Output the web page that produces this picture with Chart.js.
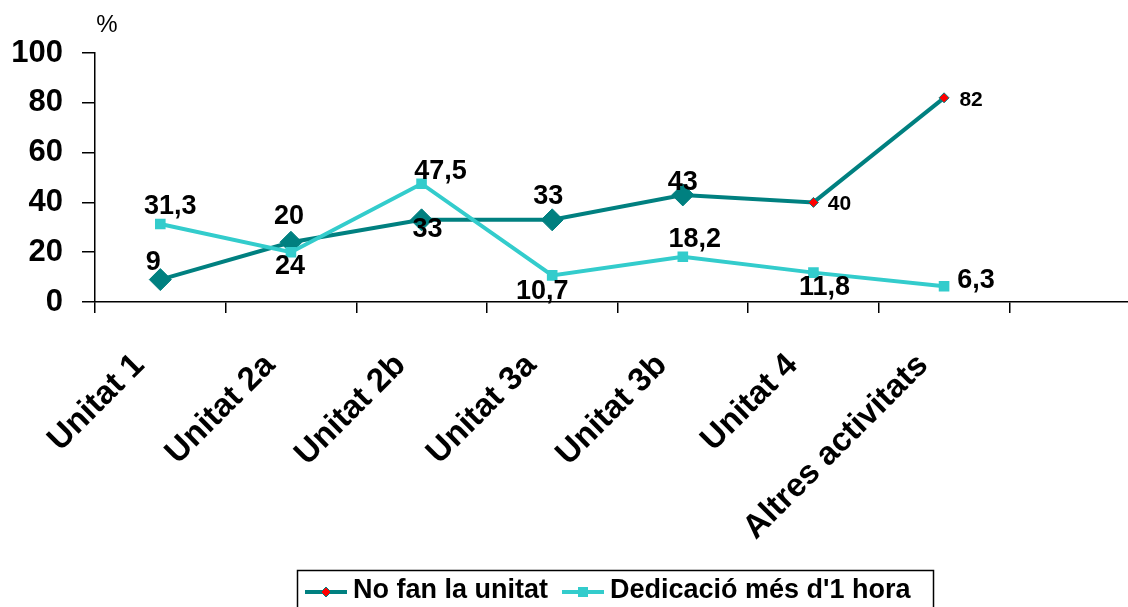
<!DOCTYPE html>
<html>
<head>
<meta charset="utf-8">
<script src="https://cdn.jsdelivr.net/npm/chart.js@4.4.0/dist/chart.umd.min.js"></script>
<style>
  html, body { margin: 0; padding: 0; background: #fff; overflow: hidden; width: 1128px; height: 607px; }
  #wrap { width: 1140px; height: 607px; }
  canvas { display: block; }
</style>
</head>
<body>
<div id="wrap"><canvas id="c" width="1140" height="607" style="width:1140px;height:607px"></canvas></div>
<script>
// ---- data ----
const categories = ['Unitat 1', 'Unitat 2a', 'Unitat 2b', 'Unitat 3a', 'Unitat 3b', 'Unitat 4', 'Altres activitats', ''];
const noFanLaUnitat = [9, 24, 33, 33, 43, 40, 82];
const dedicacioMes1Hora = [31.3, 20, 47.5, 10.7, 18.2, 11.8, 6.3];
const yTicks = [0, 20, 40, 60, 80, 100];
const seriesNames = ['No fan la unitat', "Dedicació més d'1 hora"];
const yUnit = '%';

// ---- styles (label offsets relative to each point, font sizes) ----
const DARK = '#008080';
const CYAN = '#33CCCC';
const FONT = "'Liberation Sans', Arial, sans-serif";
const labelOffsets = [
  [[-7, -17], [-1, 24], [6, 10], [-4, -23], [0, -12], [26, 2], [27, 2]],
  [[10, -18], [-2, -36], [19, -12], [-10, 16], [12, -17], [11, 15], [32, -6]]
];
const labelSizes = [
  [27, 27, 27, 27, 27, 21, 21],
  [27, 27, 27, 27, 27, 27, 27]
];

const fmt = v => String(v).replace('.', ',');

const dataLabels = {
  id: 'dataLabels',
  afterDatasetsDraw(chart) {
    const ctx = chart.ctx;
    ctx.save();
    ctx.fillStyle = '#000';
    ctx.textAlign = 'center';
    ctx.textBaseline = 'middle';
    chart.data.datasets.forEach((ds, di) => {
      const meta = chart.getDatasetMeta(di);
      meta.data.forEach((pt, i) => {
        const off = labelOffsets[di][i];
        ctx.font = 'bold ' + labelSizes[di][i] + 'px ' + FONT;
        ctx.fillText(fmt(ds.data[i]), pt.x + off[0], pt.y + off[1]);
      });
    });
    ctx.restore();
  }
};

const extras = {
  id: 'extras',
  afterDraw(chart) {
    const ctx = chart.ctx;
    ctx.save();
    // unit label
    ctx.fillStyle = '#000';
    ctx.font = '24px ' + FONT;
    ctx.textAlign = 'center';
    ctx.textBaseline = 'middle';
    ctx.fillText(yUnit, 107, 25);

    // legend
    ctx.font = 'bold 27px ' + FONT;
    ctx.textAlign = 'left';
    const ds = chart.data.datasets;
    const lineLen = 42, gap1 = 6, gap2 = 12, padL = 8, padR = 15;
    const w0 = ctx.measureText(ds[0].label).width;
    const w1 = ctx.measureText(ds[1].label).width;
    const left = 297, top = 570, ly = 592;
    const total = padL + lineLen + gap1 + w0 + gap2 + lineLen + gap1 + w1 + padR;
    ctx.strokeStyle = '#000';
    ctx.lineWidth = 1.5;
    ctx.strokeRect(left + 0.5, top + 0.5, Math.max(total, 636), 60);

    let x = left + padL;
    // series 1 marker
    ctx.strokeStyle = DARK; ctx.lineWidth = 4;
    ctx.beginPath(); ctx.moveTo(x, ly); ctx.lineTo(x + lineLen, ly); ctx.stroke();
    const mx = x + lineLen / 2;
    ctx.beginPath();
    ctx.moveTo(mx, ly - 5); ctx.lineTo(mx + 5, ly); ctx.lineTo(mx, ly + 5); ctx.lineTo(mx - 5, ly); ctx.closePath();
    ctx.fillStyle = '#FF0000'; ctx.fill();
    ctx.lineWidth = 1; ctx.strokeStyle = DARK; ctx.stroke();
    x += lineLen + gap1;
    ctx.fillStyle = '#000';
    ctx.fillText(ds[0].label, x, ly - 1);
    x = Math.max(x + w0 + gap2, 562);
    // series 2 marker
    ctx.strokeStyle = CYAN; ctx.lineWidth = 4;
    ctx.beginPath(); ctx.moveTo(x, ly); ctx.lineTo(x + lineLen, ly); ctx.stroke();
    ctx.fillStyle = CYAN;
    ctx.fillRect(x + lineLen / 2 - 5, ly - 5, 10, 10);
    x += lineLen + gap1;
    ctx.fillStyle = '#000';
    ctx.fillText(ds[1].label, x, ly - 1);
    ctx.restore();
  }
};

new Chart(document.getElementById('c'), {
  type: 'line',
  data: {
    labels: categories,
    datasets: [
      {
        label: seriesNames[0],
        data: noFanLaUnitat,
        borderColor: DARK,
        borderWidth: 4,
        pointStyle: 'rectRot',
        pointRadius: [11, 11, 11, 11, 11, 5, 5],
        pointBackgroundColor: [DARK, DARK, DARK, DARK, DARK, '#FF0000', '#FF0000'],
        pointBorderColor: DARK,
        pointBorderWidth: 1,
        tension: 0,
        order: 1
      },
      {
        label: seriesNames[1],
        data: dedicacioMes1Hora,
        borderColor: CYAN,
        borderWidth: 4,
        pointStyle: 'rect',
        pointRadius: 7.5,
        pointBackgroundColor: CYAN,
        pointBorderColor: CYAN,
        pointBorderWidth: 0,
        tension: 0,
        order: 0
      }
    ]
  },
  options: {
    responsive: false,
    maintainAspectRatio: false,
    animation: false,
    events: [],
    layout: { autoPadding: false, padding: { top: 53, left: 0, right: 0, bottom: 0 } },
    plugins: {
      legend: { display: false },
      tooltip: { enabled: false },
      title: { display: false }
    },
    scales: {
      x: {
        type: 'category',
        offset: true,
        grid: { display: true, drawOnChartArea: false, offset: true, tickLength: 11, color: '#000', lineWidth: 1.5 },
        border: { display: true, color: '#000', width: 1.5 },
        ticks: {
          autoSkip: false,
          minRotation: 45,
          maxRotation: 45,
          padding: 33,
          labelOffset: -21,
          color: '#000',
          font: { family: FONT, size: 33, weight: 'bold' }
        },
        afterFit(scale) { scale.height = 305; scale.paddingRight = 0; scale.paddingLeft = 0; }
      },
      y: {
        min: 0,
        max: 100,
        afterBuildTicks(scale) { scale.ticks = yTicks.map(v => ({ value: v })); },
        grid: { display: true, drawOnChartArea: false, tickLength: 13, color: '#000', lineWidth: 1.5 },
        border: { display: true, color: '#000', width: 1.5 },
        ticks: {
          padding: 19,
          color: '#000',
          font: { family: FONT, size: 31, weight: 'bold' }
        },
        afterFit(scale) { scale.width = 95; }
      }
    }
  },
  plugins: [dataLabels, extras]
});
</script>
</body>
</html>
